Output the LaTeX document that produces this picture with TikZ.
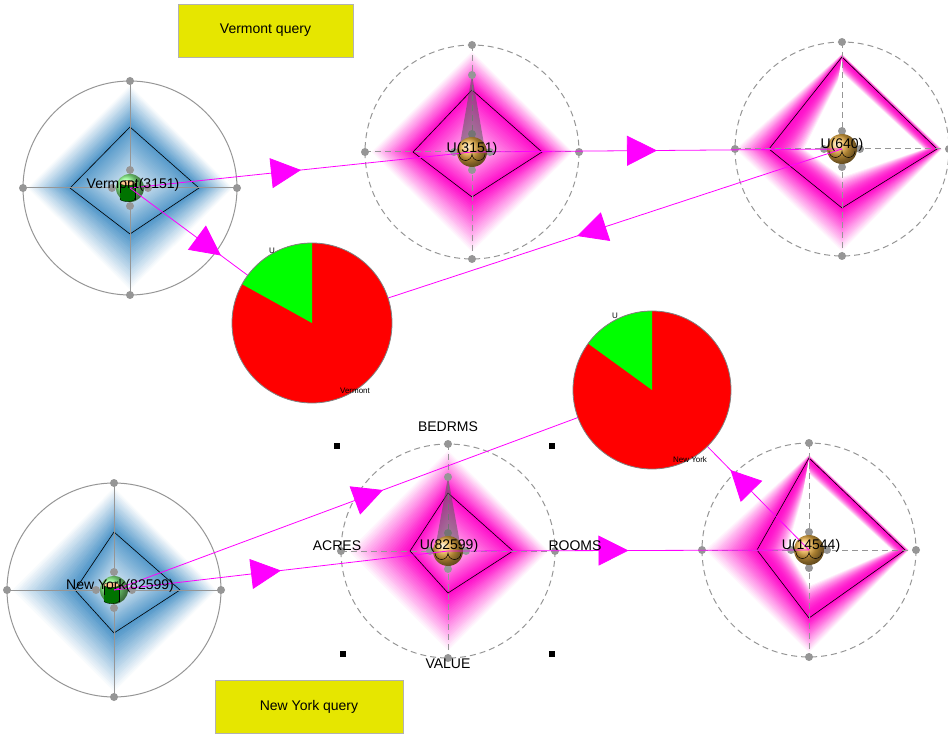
\documentclass[tikz,border=0pt]{standalone}
\usepackage{fontspec}
\setmainfont{Liberation Sans}
\usetikzlibrary{calc, arrows.meta, decorations.markings}
\definecolor{glyphblue}{RGB}{30,120,185}
\definecolor{glyphpink}{RGB}{255,0,200}
\definecolor{linkpink}{RGB}{255,0,255}
\definecolor{querybox}{RGB}{230,230,0}
\definecolor{ballgold}{RGB}{240,180,70}
\definecolor{axisgray}{RGB}{150,150,150}

% four corner points of a kite round a glyph centre: name, suffix, top, right, bottom, left
\newcommand{\kite}[6]{%
  \coordinate (#1-#2t) at ($(#1)+(0,-#3)$);
  \coordinate (#1-#2r) at ($(#1)+(#4,0)$);
  \coordinate (#1-#2b) at ($(#1)+(0,#5)$);
  \coordinate (#1-#2l) at ($(#1)+(-#6,0)$);}

% soft colour band between two kites
\newcommand{\band}[7]{%
  \foreach \k in {0,...,24} {
    \pgfmathsetmacro\f{\k/24}
    \pgfmathtruncatemacro\p{#5+(#6-#5)*(#7)}
    \fill[#2!\p!white] ($(#1-#3t)!\f!(#1-#4t)$) -- ($(#1-#3r)!\f!(#1-#4r)$)
      -- ($(#1-#3b)!\f!(#1-#4b)$) -- ($(#1-#3l)!\f!(#1-#4l)$) -- cycle;
  }}

% ring, axes and little dots of a glyph
\newcommand{\glyphframe}[2]{%
  \kite{#1}{a}{107}{107}{107}{107}
  \kite{#1}{d}{18}{18}{18}{18}
  \draw[#2] (#1) circle (107);
  \draw[#2] (#1-at) -- (#1-ab) (#1-al) -- (#1-ar);
  \foreach \s in {at,ar,ab,al,dt,dr,db,dl} \fill[axisgray] (#1-\s) circle (4);}

\newcommand{\kiteline}[1]{%
  \draw[black, line width=0.6pt] (#1-it) -- (#1-ir) -- (#1-ib) -- (#1-il) -- cycle;}

\newcommand{\cityball}[1]{%
  \shade[ball color=green!45!white] (#1) circle (14);
  \fill[green!45!black, draw=black, line width=0.3pt] ($(#1)+(-10,-5)$) rectangle ($(#1)+(5,11)$);
  \fill[green!45!black, draw=black, line width=0.3pt] ($(#1)+(-2.5,11)$) ellipse (7.5 and 2.5);
  \fill[green!45!black] ($(#1)+(-9.7,5)$) rectangle ($(#1)+(4.7,10.5)$);
  \fill[orange!45!white, draw=black, line width=0.3pt] ($(#1)+(-2.5,-5)$) ellipse (7.5 and 2.5);}

\newcommand{\uball}[1]{%
  \shade[ball color=ballgold] (#1) circle (15);
  \draw[black, line width=0.5pt] ($(#1)+(-13,2)$) arc[start angle=180, end angle=0, radius=6.5]
    arc[start angle=180, end angle=0, radius=6.5];}

\tikzset{
  ring/.style={axisgray, line width=1pt},
  dashring/.style={axisgray, line width=1pt, dash pattern=on 6pt off 4pt},
  cone/.style={fill=black!65, opacity=0.55},
  link/.style={linkpink, line width=0.8pt,
    decoration={markings, mark=at position 0.5 with {\arrow{Triangle[length=30pt,width=30pt]}}},
    postaction={decorate}},
  glabel/.style={font=\fontsize{14}{16}\selectfont, inner sep=0pt},
  tiny/.style={font=\fontsize{8}{9}\selectfont, inner sep=0pt},
  query/.style={fill=querybox, draw=gray!60, minimum height=53pt, inner sep=0pt,
    font=\fontsize{14}{16}\selectfont},
  corner/.style={fill=black, minimum size=6pt, inner sep=0pt}
}

\begin{document}
\begin{tikzpicture}[x=1pt, y=-1pt]
\useasboundingbox (0,0) rectangle (948,735);

% glyph centres and pies
\coordinate (vt) at (130,188);
\coordinate (u1) at (472,152);
\coordinate (u2) at (842,149);
\coordinate (ny) at (114,590);
\coordinate (u3) at (448,551);
\coordinate (u4) at (809,550);
\coordinate (pv) at (312,323);
\coordinate (pn) at (652,390);

% Vermont
\kite{vt}{o}{104}{104}{104}{104}
\kite{vt}{i}{61}{69}{46}{60}
\kite{vt}{c}{15}{17}{11}{15}
\band{vt}{glyphblue}{o}{i}{0}{80}{\f}
\band{vt}{glyphblue}{i}{c}{75}{25}{\f}
\kiteline{vt}
\glyphframe{vt}{ring}
\cityball{vt}

% U(3151)
\kite{u1}{o}{102}{102}{102}{102}
\kite{u1}{i}{62}{70}{45}{59}
\kite{u1}{c}{15}{17}{11}{15}
\band{u1}{glyphpink}{o}{i}{0}{100}{\f}
\band{u1}{glyphpink}{i}{c}{95}{35}{\f}
\kiteline{u1}
\glyphframe{u1}{dashring}
\coordinate (u1-tip) at ($(u1)+(0,-77)$);
\fill[cone] (u1-tip) -- ($(u1)+(13,-2)$) -- ($(u1)+(-13,-2)$) -- cycle;
\fill[axisgray] (u1-tip) circle (4);
\uball{u1}

% U(640)
\kite{u2}{o}{95}{100}{104}{108}
\kite{u2}{i}{92}{95}{59}{73}
\kite{u2}{m}{76}{82}{28}{38}
\band{u2}{glyphpink}{o}{i}{0}{100}{\f}
\band{u2}{glyphpink}{i}{m}{95}{0}{\f*\f}
\fill[white] (u2-it) -- ($(u2)+(4,-10)$) -- ($(u2)+(-14,-10)$) -- cycle;
\kiteline{u2}
\glyphframe{u2}{dashring}
\uball{u2}

% New York
\kite{ny}{o}{104}{104}{104}{104}
\kite{ny}{i}{58}{66}{43}{39}
\kite{ny}{c}{15}{17}{11}{10}
\band{ny}{glyphblue}{o}{i}{0}{80}{\f}
\band{ny}{glyphblue}{i}{c}{75}{25}{\f}
\kiteline{ny}
\glyphframe{ny}{ring}
\cityball{ny}

% U(82599)
\kite{u3}{o}{102}{102}{102}{102}
\kite{u3}{i}{58}{65}{42}{38}
\kite{u3}{c}{15}{17}{11}{10}
\band{u3}{glyphpink}{o}{i}{0}{100}{\f}
\band{u3}{glyphpink}{i}{c}{95}{35}{\f}
\kiteline{u3}
\glyphframe{u3}{dashring}
\coordinate (u3-tip) at ($(u3)+(0,-74)$);
\fill[cone] (u3-tip) -- ($(u3)+(13,-2)$) -- ($(u3)+(-13,-2)$) -- cycle;
\fill[axisgray] (u3-tip) circle (4);
\uball{u3}

% U(14544)
\kite{u4}{o}{95}{100}{104}{106}
\kite{u4}{i}{92}{96}{68}{52}
\kite{u4}{m}{76}{83}{36}{22}
\band{u4}{glyphpink}{o}{i}{0}{100}{\f}
\band{u4}{glyphpink}{i}{m}{95}{0}{\f*\f}
\fill[white] (u4-it) -- ($(u4)+(3,-12)$) -- ($(u4)+(-14,-12)$) -- cycle;
\kiteline{u4}
\glyphframe{u4}{dashring}
\uball{u4}

% connectors
\draw[link] (vt) -- (u1);
\draw[link] (vt) -- (pv);
\draw[link] (u1) -- (u2);
\draw[link] (u2) -- (pv);
\draw[link] (ny) -- (u3);
\draw[link] (ny) -- (pn);
\draw[link] (u3) -- (u4);
\draw[link] (u4) -- (pn);

% pies
\fill[red] (pv) circle (80);
\fill[green] (pv) -- ++(-151:80) arc[start angle=-151, end angle=-90, radius=80] -- cycle;
\draw[gray, line width=0.8pt] (pv) circle (80);
\fill[red] (pn) circle (79);
\fill[green] (pn) -- ++(-144:79) arc[start angle=-144, end angle=-90, radius=79] -- cycle;
\draw[gray, line width=0.8pt] (pn) circle (79);

% labels
\node[glabel] (vt-l) at ($(vt)+(3,-3)$) {Vermont(3151)};
\node[glabel] (u1-l) at ($(u1)+(0,-3)$) {U(3151)};
\node[glabel] (u2-l) at ($(u2)+(0,-4)$) {U(640)};
\node[glabel] (ny-l) at ($(ny)+(6,-4)$) {New York(82599)};
\node[glabel] (u3-l) at ($(u3)+(1,-5)$) {U(82599)};
\node[glabel] (u4-l) at ($(u4)+(2,-4)$) {U(14544)};
\node[tiny] (pv-u) at (272,251) {U};
\node[tiny] (pv-l) at (355,391) {Vermont};
\node[tiny] (pn-u) at (615,316) {U};
\node[tiny] (pn-l) at (690,460) {New York};

% axis names of the selected glyph
\node[glabel] (bedrms) at (448,427) {BEDRMS};
\node[glabel] (acres) at (337,546) {ACRES};
\node[glabel] (rooms) at (575,546) {ROOMS};
\node[glabel] (value) at (448,664) {VALUE};
\node[corner] (c1) at (337,446) {};
\node[corner] (c2) at (552,446) {};
\node[corner] (c3) at (343,654) {};
\node[corner] (c4) at (552,654) {};

% query boxes
\node[query, minimum width=175pt] (vq) at (265.5,30.5) {Vermont query};
\node[query, minimum width=188pt] (nq) at (309,706.5) {New York query};
\end{tikzpicture}
\end{document}
